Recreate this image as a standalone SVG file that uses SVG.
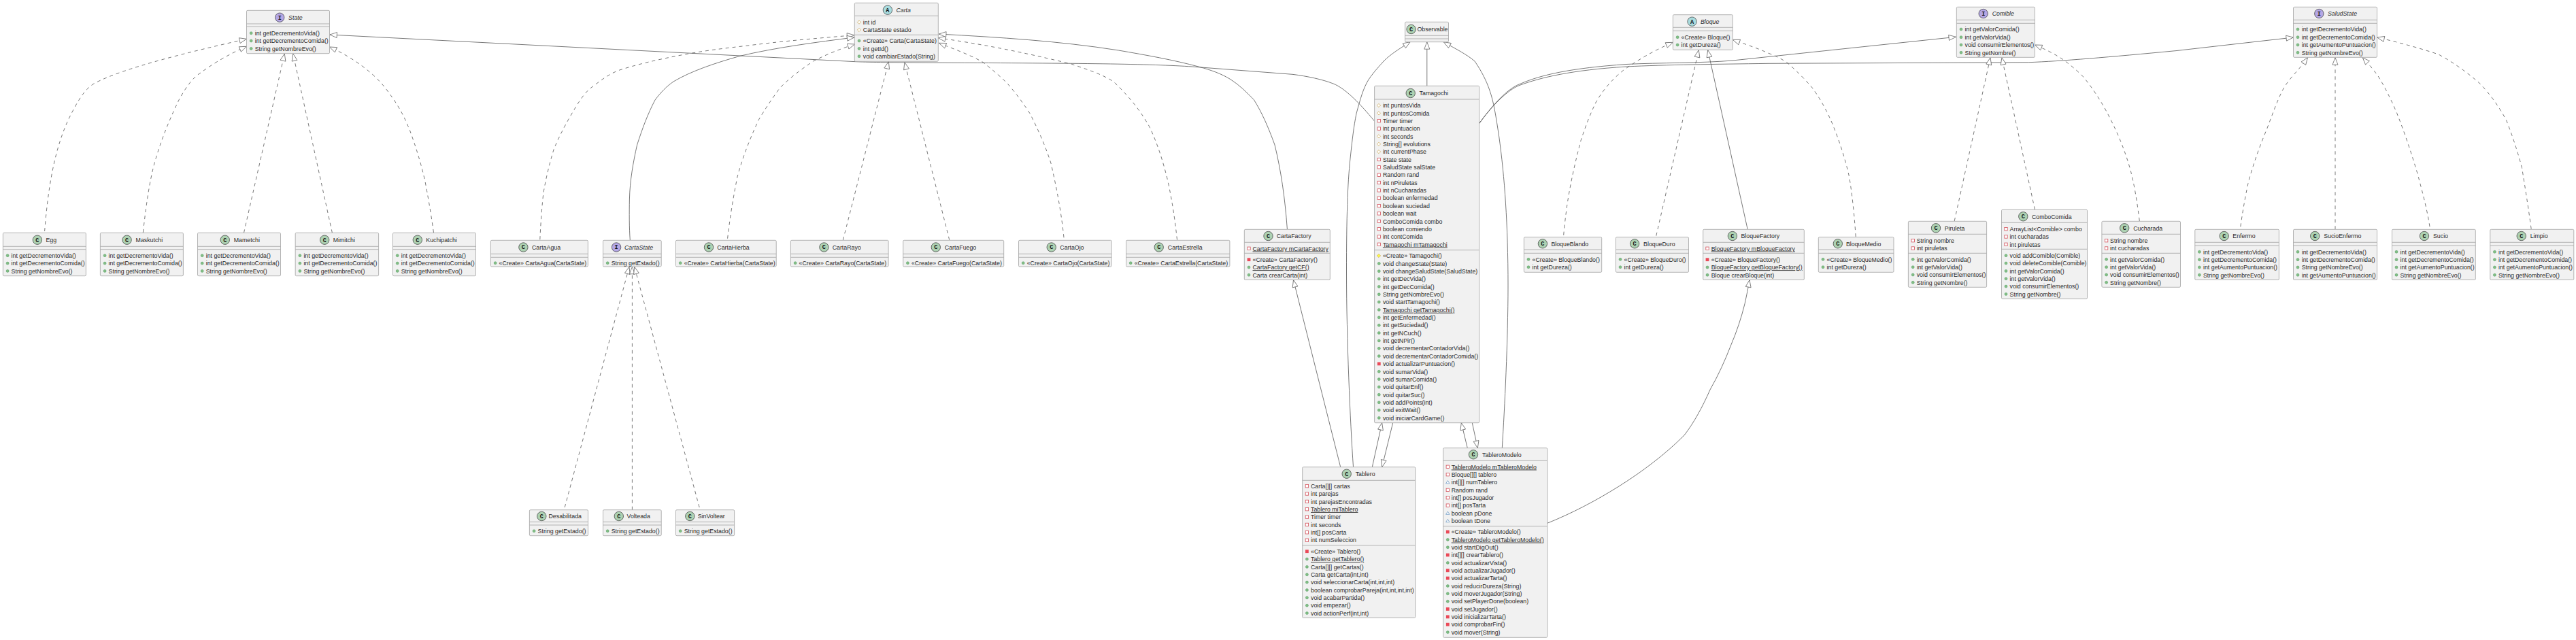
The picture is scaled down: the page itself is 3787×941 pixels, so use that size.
<svg xmlns="http://www.w3.org/2000/svg" xmlns:xlink="http://www.w3.org/1999/xlink" width="3787" height="941" viewBox="0 0 3787 941">
<style>
text{font-family:"Liberation Sans",Arial,sans-serif;font-size:8.8px;fill:#2a2a2a}
.i{font-style:italic}.u{text-decoration:underline}
.b{fill:#f1f1f1;stroke:#aaa;stroke-width:.9}
.s{stroke:#aaa;stroke-width:.9}
.bc{stroke:#333;stroke-width:.7}
.C{fill:#add1b2}.A{fill:#a9dcdf}.I{fill:#b4a7e5}
text.k{font-family:"Liberation Mono",monospace;font-weight:bold;font-size:8.5px;text-anchor:middle;fill:#111}
.c path{fill:none;stroke:#555;stroke-width:.8;marker-end:url(#tri)}
.c .d{stroke-dasharray:5 5}
</style>
<defs>
<marker id="tri" markerUnits="userSpaceOnUse" markerWidth="14" markerHeight="12" refX="11.5" refY="6" orient="auto"><path d="M11.5 6L1 2V10Z" fill="#fff" stroke="#555" stroke-width=".7"/></marker>
<circle id="p" r="2" fill="#84be84" stroke="#4d9a62" stroke-width=".5"/>
<rect id="r" x="-2.2" y="-2.2" width="4.4" height="4.4" fill="#fff" stroke="#d4515b" stroke-width=".8"/>
<rect id="R" x="-2.4" y="-2.4" width="4.8" height="4.8" fill="#ea4a59"/>
<path id="h" d="M0-2.6L2.6 0L0 2.6L-2.6 0Z" fill="#fff" stroke="#c9a24a" stroke-width=".7"/>
<path id="H" d="M0-2.6L2.6 0L0 2.6L-2.6 0Z" fill="#ffff44" stroke="#c9a24a" stroke-width=".7"/>
<path id="a" d="M0-2.4L2.7 1.9H-2.7Z" fill="#fff" stroke="#5f8fc0" stroke-width=".7"/>
</defs>
<rect width="3787" height="941" fill="#fff"/>
<g id="connectors" class="c">
<path class="d" d="M65.6 340C70 285 78 225 100 177C115 146 125 131 138 123C180 100 280 76 362.5 57.3"/>
<path class="d" d="M210.3 342C216 290 222 255 230 230C240 197 252 170 263 147C275 125 285 113 295 107C315 92 340 78 362.5 68.3"/>
<path class="d" d="M358.5 342.3L418.3 79"/>
<path class="d" d="M488.4 342.3L430.8 79"/>
<path class="d" d="M637.5 342C633 310 629 288 625 267C619 240 611 215 603 193C592 165 582 150 567 130C550 108 520 85 484.4 69"/>
<path d="M2020.5 178C2000 153 1978 130 1960 123C1945 117 1922 112 1900 109.3L1759 98.5C1700 94 1600 93 1400 92.3L1300 91.7C1285 91.5 1270 91.2 1258 90.7L484.8 51"/>
<path class="d" d="M793.8 352.3C795 325 797 300 799 283C803 260 808 240 814 220C822 200 833 180 843 163C852 148 860 135 872 126.7C885 117 895 109 910 103.3C945 92 980 85 1012 79C1045 73 1075 70 1102 66.7C1155 60 1205 56 1255.8 51.7"/>
<path d="M926.3 353C925 335 925 312 925.4 293C926 265 931 238 936.6 213C944 190 952 168 963 147C972 135 980 127 990 120C1015 105 1050 93 1088 82.3C1140 70 1200 62 1255.8 55"/>
<path class="d" d="M1069.6 350.7C1073 320 1078 290 1084 260C1092 230 1103 203 1115 176.7C1125 160 1135 145 1146 130C1160 115 1178 102 1195.5 90C1215 80 1235 72 1256.7 65"/>
<path class="d" d="M1239.3 353L1306.3 90.7"/>
<path class="d" d="M1395.7 352.7L1329.9 91.7"/>
<path class="d" d="M1564 349.3C1560 310 1553 275 1545 240C1537 215 1526 190 1514 166.7C1503 150 1492 135 1480 121.7C1468 110 1457 101 1445.4 91.7C1425 80 1402 72 1380.4 63.3"/>
<path class="d" d="M1730.5 352.7C1727 320 1723 295 1717 266.7C1710 238 1702 212 1690 186.7C1675 160 1658 140 1637 120C1620 109 1598 102 1575.5 94.3C1510 78 1445 65 1379.2 55.7"/>
<path d="M1892.4 337C1889 290 1883 250 1874 213C1865 188 1855 165 1843.4 146.7C1832 135 1822 125 1809 116.7C1795 108 1780 103 1763 98.3C1725 88 1685 81 1644.4 74C1555 60 1470 55 1380.4 50"/>
<path class="d" d="M830.2 746L925 392.3"/>
<path class="d" d="M929.4 749.7V392.3"/>
<path class="d" d="M1028.2 746L932.7 392.3"/>
<path d="M2097.8 126.3V61.7"/>
<path d="M1970.7 686.7L1901.5 411.7"/>
<path d="M1989.5 686.7C1985 620 1979.5 500 1979.5 400C1979.5 320 1981 270 1985 233C1988 205 1990 187 1994 167C2000 145 2004 130 2012 117C2020 105 2030 95 2034 90C2045 79 2060 70 2073.2 61.7"/>
<path d="M2208.3 658.7C2212 600 2217 500 2217 420C2217 330 2212 260 2203.6 200C2199 170 2196 150 2190 133C2185 118 2177 103 2168 90C2155 79 2140 72 2122.3 61.7"/>
<path d="M2017.3 686.7L2031.7 621.7"/>
<path d="M2047.7 621.7L2031.7 686.7"/>
<path d="M2157.3 658.7L2148.3 621.7"/>
<path d="M2164.3 621.7L2172.3 658.7"/>
<path d="M2174.5 181.7C2190 160 2215 130 2235 123.3C2265 110 2310 100 2391 94.5C2440 92 2500 93 2547 89L2875.5 54.3"/>
<path d="M2174.5 181.7C2190 160 2215 132 2235 125C2265 114 2310 103 2391 98C2450 95 2520 94.5 2600 93.3L2982.7 91.7C3030 90 3100 84 3200 74.5L3371.5 55"/>
<path class="d" d="M2298.7 345.7C2300 330 2302 315 2304 300C2309 268 2316 237 2324 206.7C2331 185 2338 167 2346.4 150C2358 130 2372 115 2386.6 103.3C2408 88 2432 74 2459.4 62.3"/>
<path class="d" d="M2434.8 346.7L2497.3 73.7"/>
<path d="M2569.2 337.3L2510.7 73.7"/>
<path class="d" d="M2728.2 348.3C2726 315 2723 287 2718.6 260C2713 235 2705 210 2695.7 186.7C2687 165 2677 147 2665 130C2654 117 2641 104 2626.8 91.7C2618 86 2610 82 2600 78.3C2582 70 2565 65 2547.3 58.3"/>
<path d="M2274.7 769.3C2310 755 2345 737 2380 715C2415 693 2448 668 2476 640C2490 622 2503 598 2514 573C2526 552 2536 530 2545 506.7C2553 488 2560 467 2565 446.7C2568 433 2570 423 2572 411.7"/>
<path class="d" d="M2873.2 325L2926 84.7"/>
<path class="d" d="M2991.5 308.3L2942.9 84.7"/>
<path class="d" d="M3145.3 325C3142 298 3138 273 3132 250C3125 225 3116 202 3105 180C3093 155 3079 133 3063 113.3C3053 103 3043 95 3032.5 87.3C3020 79 3006 72 2991.5 66"/>
<path class="d" d="M3293.8 333.3C3297 310 3301 288 3305.6 266.7C3313 240 3322 215 3332.4 190C3340 170 3347 150 3355.4 133C3362 121 3370 112 3378 103.3C3383 97 3388 91 3392.5 84.7"/>
<path class="d" d="M3433 337.3V84.7"/>
<path class="d" d="M3572 333.3C3568 307 3561 282 3554.4 256.7C3545 225 3535 195 3523.8 166.7C3516 148 3507 130 3497 113.3C3490 103 3482 94 3473.3 84.7"/>
<path class="d" d="M3721.2 336.7C3717 305 3712 275 3707.5 246.7C3701 222 3693 198 3684.5 176.7C3673 155 3660 138 3646.2 123.3C3628 107 3607 92 3585 80C3555 70 3525 62 3494.7 55"/>
</g>
<g id="State"><rect class="b" x="362.5" y="15.3" width="122" height="63.4" rx="1.5"/><path class="s" d="M362.5 35H484.5M362.5 39.3H484.5"/><circle class="bc I" cx="411.2" cy="25.7" r="6.7"/><text class="k" x="411.2" y="28.6">I</text><text class="i" x="424.1" y="28.9">State</text>
<use href="#p" x="369.2" y="48.7"/><text x="374.7" y="51.9">int getDecrementoVida()</text><use href="#p" x="369.2" y="60"/><text x="374.7" y="63.2">int getDecrementoComida()</text><use href="#p" x="369.2" y="71.4"/><text x="374.7" y="74.6">String getNombreEvo()</text></g>
<g id="Egg"><rect class="b" x="4.4" y="342.3" width="122" height="63.4" rx="1.5"/><path class="s" d="M4.4 362.3H126.4M4.4 366.7H126.4"/><circle class="bc C" cx="54.9" cy="352.7" r="6.7"/><text class="k" x="54.9" y="355.6">C</text><text x="67.4" y="355.9">Egg</text>
<use href="#p" x="11.1" y="375.7"/><text x="16.6" y="378.9">int getDecrementoVida()</text><use href="#p" x="11.1" y="387.1"/><text x="16.6" y="390.3">int getDecrementoComida()</text><use href="#p" x="11.1" y="398.4"/><text x="16.6" y="401.6">String getNombreEvo()</text></g>
<g id="Maskutchi"><rect class="b" x="147.4" y="342.3" width="122" height="63.4" rx="1.5"/><path class="s" d="M147.4 362.3H269.4M147.4 366.7H269.4"/><circle class="bc C" cx="186.6" cy="352.7" r="6.7"/><text class="k" x="186.6" y="355.6">C</text><text x="199.6" y="355.9">Maskutchi</text>
<use href="#p" x="154.1" y="375.7"/><text x="159.6" y="378.9">int getDecrementoVida()</text><use href="#p" x="154.1" y="387.1"/><text x="159.6" y="390.3">int getDecrementoComida()</text><use href="#p" x="154.1" y="398.4"/><text x="159.6" y="401.6">String getNombreEvo()</text></g>
<g id="Mametchi"><rect class="b" x="290.5" y="342.3" width="122" height="63.4" rx="1.5"/><path class="s" d="M290.5 362.3H412.5M290.5 366.7H412.5"/><circle class="bc C" cx="330.8" cy="352.7" r="6.7"/><text class="k" x="330.8" y="355.6">C</text><text x="343.8" y="355.9">Mametchi</text>
<use href="#p" x="297.2" y="375.7"/><text x="302.7" y="378.9">int getDecrementoVida()</text><use href="#p" x="297.2" y="387.1"/><text x="302.7" y="390.3">int getDecrementoComida()</text><use href="#p" x="297.2" y="398.4"/><text x="302.7" y="401.6">String getNombreEvo()</text></g>
<g id="Mimitchi"><rect class="b" x="434.2" y="342.3" width="122.4" height="63.4" rx="1.5"/><path class="s" d="M434.2 362.3H556.6M434.2 366.7H556.6"/><circle class="bc C" cx="477.2" cy="352.7" r="6.7"/><text class="k" x="477.2" y="355.6">C</text><text x="489.7" y="355.9">Mimitchi</text>
<use href="#p" x="440.9" y="375.7"/><text x="446.4" y="378.9">int getDecrementoVida()</text><use href="#p" x="440.9" y="387.1"/><text x="446.4" y="390.3">int getDecrementoComida()</text><use href="#p" x="440.9" y="398.4"/><text x="446.4" y="401.6">String getNombreEvo()</text></g>
<g id="Kuchipatchi"><rect class="b" x="577.5" y="342.3" width="122" height="63.4" rx="1.5"/><path class="s" d="M577.5 362.3H699.5M577.5 366.7H699.5"/><circle class="bc C" cx="613.8" cy="352.7" r="6.7"/><text class="k" x="613.8" y="355.6">C</text><text x="626.3" y="355.9">Kuchipatchi</text>
<use href="#p" x="584.2" y="375.7"/><text x="589.7" y="378.9">int getDecrementoVida()</text><use href="#p" x="584.2" y="387.1"/><text x="589.7" y="390.3">int getDecrementoComida()</text><use href="#p" x="584.2" y="398.4"/><text x="589.7" y="401.6">String getNombreEvo()</text></g>
<g id="Carta"><rect class="b" x="1256.3" y="4.3" width="123" height="86" rx="1.5"/><path class="s" d="M1256.3 23.3H1379.3M1256.3 51.3H1379.3"/><circle class="bc A" cx="1304.9" cy="14.7" r="6.7"/><text class="k" x="1304.9" y="17.6">A</text><text class="i" x="1317.4" y="17.9">Carta</text>
<use href="#h" x="1263" y="32.7"/><text x="1268.8" y="35.9">int id</text><use href="#h" x="1263" y="44"/><text x="1268.8" y="47.2">CartaState estado</text><use href="#p" x="1263" y="60"/><text x="1268.8" y="63.2">«Create» Carta(CartaState)</text><use href="#p" x="1263" y="71.4"/><text x="1268.8" y="74.6">int getId()</text><use href="#p" x="1263" y="82.7"/><text x="1268.8" y="85.9">void cambiarEstado(String)</text></g>
<g id="CartaAgua"><rect class="b" x="721.4" y="353.3" width="143" height="38.7" rx="1.5"/><path class="s" d="M721.4 373.3H864.4M721.4 378.3H864.4"/><circle class="bc C" cx="769.4" cy="363.5" r="6.7"/><text class="k" x="769.4" y="366.4">C</text><text x="782" y="366.7">CartaAgua</text><use href="#p" x="728.1" y="386.7"/><text x="733.6" y="389.9">«Create» CartaAgua(CartaState)</text></g>
<g id="CartaState"><rect class="b" x="886.5" y="353.3" width="85.7" height="38.7" rx="1.5"/><path class="s" d="M886.5 373.3H972.2M886.5 378.3H972.2"/><circle class="bc I" cx="906.1" cy="363.5" r="6.7"/><text class="k" x="906.1" y="366.4">I</text><text class="i" x="918" y="366.7">CartaState</text><use href="#p" x="893.2" y="386.7"/><text x="898.7" y="389.9">String getEstado()</text></g>
<g id="CartaHierba"><rect class="b" x="993.5" y="353.3" width="147.7" height="38.7" rx="1.5"/><path class="s" d="M993.5 373.3H1141.2M993.5 378.3H1141.2"/><circle class="bc C" cx="1042" cy="363.5" r="6.7"/><text class="k" x="1042" y="366.4">C</text><text x="1054.3" y="366.7">CartaHierba</text><use href="#p" x="1000.2" y="386.7"/><text x="1005.7" y="389.9">«Create» CartaHierba(CartaState)</text></g>
<g id="CartaRayo"><rect class="b" x="1162.4" y="353.3" width="143.7" height="38.7" rx="1.5"/><path class="s" d="M1162.4 373.3H1306.1M1162.4 378.3H1306.1"/><circle class="bc C" cx="1211.4" cy="363.5" r="6.7"/><text class="k" x="1211.4" y="366.4">C</text><text x="1223.7" y="366.7">CartaRayo</text><use href="#p" x="1169.1" y="386.7"/><text x="1174.6" y="389.9">«Create» CartaRayo(CartaState)</text></g>
<g id="CartaFuego"><rect class="b" x="1327.7" y="353.3" width="148" height="38.7" rx="1.5"/><path class="s" d="M1327.7 373.3H1475.7M1327.7 378.3H1475.7"/><circle class="bc C" cx="1375.8" cy="363.5" r="6.7"/><text class="k" x="1375.8" y="366.4">C</text><text x="1388.8" y="366.7">CartaFuego</text><use href="#p" x="1334.4" y="386.7"/><text x="1339.9" y="389.9">«Create» CartaFuego(CartaState)</text></g>
<g id="CartaOjo"><rect class="b" x="1497.5" y="353.3" width="136.6" height="38.7" rx="1.5"/><path class="s" d="M1497.5 373.3H1634.1M1497.5 378.3H1634.1"/><circle class="bc C" cx="1545.7" cy="363.5" r="6.7"/><text class="k" x="1545.7" y="366.4">C</text><text x="1558.3" y="366.7">CartaOjo</text><use href="#p" x="1504.2" y="386.7"/><text x="1509.7" y="389.9">«Create» CartaOjo(CartaState)</text></g>
<g id="CartaEstrella"><rect class="b" x="1655.5" y="353.3" width="152.4" height="38.7" rx="1.5"/><path class="s" d="M1655.5 373.3H1807.9M1655.5 378.3H1807.9"/><circle class="bc C" cx="1703.7" cy="363.5" r="6.7"/><text class="k" x="1703.7" y="366.4">C</text><text x="1716.8" y="366.7">CartaEstrella</text><use href="#p" x="1662.2" y="386.7"/><text x="1667.7" y="389.9">«Create» CartaEstrella(CartaState)</text></g>
<g id="CartaFactory"><rect class="b" x="1829.3" y="337.3" width="126" height="74.2" rx="1.5"/><path class="s" d="M1829.3 356.3H1955.3M1829.3 372.3H1955.3"/><circle class="bc C" cx="1864.5" cy="347" r="6.7"/><text class="k" x="1864.5" y="349.9">C</text><text x="1876.7" y="350.2">CartaFactory</text>
<use href="#r" x="1836" y="365.3"/><text class="u" x="1841.5" y="368.5">CartaFactory mCartaFactory</text><use href="#R" x="1836" y="381.7"/><text x="1841.5" y="384.9">«Create» CartaFactory()</text><use href="#p" x="1836" y="393"/><text class="u" x="1841.5" y="396.2">CartaFactory getCF()</text><use href="#p" x="1836" y="404.3"/><text x="1841.5" y="407.5">Carta crearCarta(int)</text></g>
<g id="Desabilitada"><rect class="b" x="778.4" y="749.7" width="86.1" height="38" rx="1.5"/><path class="s" d="M778.4 767.3H864.5M778.4 772H864.5"/><circle class="bc C" cx="796.3" cy="759" r="6.7"/><text class="k" x="796.3" y="761.9">C</text><text x="806.5" y="762.2">Desabilitada</text><use href="#p" x="785.1" y="780.7"/><text x="790.6" y="783.9">String getEstado()</text></g>
<g id="Volteada"><rect class="b" x="886.5" y="749.7" width="85.7" height="38" rx="1.5"/><path class="s" d="M886.5 767.3H972.2M886.5 772H972.2"/><circle class="bc C" cx="909.8" cy="759" r="6.7"/><text class="k" x="909.8" y="761.9">C</text><text x="921.6" y="762.2">Volteada</text><use href="#p" x="893.2" y="780.7"/><text x="898.7" y="783.9">String getEstado()</text></g>
<g id="SinVoltear"><rect class="b" x="993.5" y="749.7" width="86.1" height="38" rx="1.5"/><path class="s" d="M993.5 767.3H1079.6M993.5 772H1079.6"/><circle class="bc C" cx="1014.3" cy="759" r="6.7"/><text class="k" x="1014.3" y="761.9">C</text><text x="1025.7" y="762.2">SinVoltear</text><use href="#p" x="1000.2" y="780.7"/><text x="1005.7" y="783.9">String getEstado()</text></g>
<g id="Observable"><rect class="b" x="2065.6" y="32.3" width="63.9" height="29.4" rx="1.5"/><path class="s" d="M2065.6 52.3H2129.5M2065.6 57H2129.5"/><circle class="bc C" cx="2074.6" cy="43" r="6.7"/><text class="k" x="2074.6" y="45.9">C</text><text x="2083.5" y="46.2">Observable</text></g>
<g id="Tamagochi"><rect class="b" x="2020.6" y="126.3" width="154" height="495.4" rx="1.5"/><path class="s" d="M2020.6 146H2174.6M2020.6 367.7H2174.6"/><circle class="bc C" cx="2073.7" cy="137" r="6.7"/><text class="k" x="2073.7" y="139.9">C</text><text x="2086.6" y="140.2">Tamagochi</text>
<use href="#h" x="2027" y="155"/><text x="2032.9" y="158.2">int puntosVida</text>
<use href="#h" x="2027" y="166.4"/><text x="2032.9" y="169.6">int puntosComida</text>
<use href="#r" x="2027.3" y="177.7"/><text x="2032.9" y="180.9">Timer timer</text>
<use href="#r" x="2027.3" y="189.1"/><text x="2032.9" y="192.3">int puntuacion</text>
<use href="#h" x="2027" y="200.4"/><text x="2032.9" y="203.6">int seconds</text>
<use href="#h" x="2027" y="211.8"/><text x="2032.9" y="215">String[] evolutions</text>
<use href="#h" x="2027" y="223.1"/><text x="2032.9" y="226.3">int currentPhase</text>
<use href="#r" x="2027.3" y="234.5"/><text x="2032.9" y="237.7">State state</text>
<use href="#r" x="2027.3" y="245.8"/><text x="2032.9" y="249">SaludState salState</text>
<use href="#r" x="2027.3" y="257.2"/><text x="2032.9" y="260.4">Random rand</text>
<use href="#r" x="2027.3" y="268.5"/><text x="2032.9" y="271.7">int nPiruletas</text>
<use href="#r" x="2027.3" y="279.9"/><text x="2032.9" y="283.1">int nCucharadas</text>
<use href="#r" x="2027.3" y="291.2"/><text x="2032.9" y="294.4">boolean enfermedad</text>
<use href="#r" x="2027.3" y="302.6"/><text x="2032.9" y="305.8">boolean suciedad</text>
<use href="#r" x="2027.3" y="313.9"/><text x="2032.9" y="317.1">boolean wait</text>
<use href="#r" x="2027.3" y="325.3"/><text x="2032.9" y="328.5">ComboComida combo</text>
<use href="#r" x="2027.3" y="336.6"/><text x="2032.9" y="339.8">boolean comiendo</text>
<use href="#r" x="2027.3" y="348"/><text x="2032.9" y="351.2">int contComida</text>
<use href="#r" x="2027.3" y="359.3"/><text class="u" x="2032.9" y="362.5">Tamagochi mTamagochi</text>
<use href="#H" x="2027" y="376"/><text x="2032.9" y="379.2">«Create» Tamagochi()</text>
<use href="#p" x="2027.3" y="387.4"/><text x="2032.9" y="390.6">void changeState(State)</text>
<use href="#p" x="2027.3" y="398.7"/><text x="2032.9" y="401.9">void changeSaludState(SaludState)</text>
<use href="#p" x="2027.3" y="410.1"/><text x="2032.9" y="413.3">int getDecVida()</text>
<use href="#p" x="2027.3" y="421.4"/><text x="2032.9" y="424.6">int getDecComida()</text>
<use href="#p" x="2027.3" y="432.8"/><text x="2032.9" y="436">String getNombreEvo()</text>
<use href="#p" x="2027.3" y="444.1"/><text x="2032.9" y="447.3">void startTamagochi()</text>
<use href="#p" x="2027.3" y="455.5"/><text class="u" x="2032.9" y="458.7">Tamagochi getTamagochi()</text>
<use href="#p" x="2027.3" y="466.8"/><text x="2032.9" y="470">int getEnfermedad()</text>
<use href="#p" x="2027.3" y="478.2"/><text x="2032.9" y="481.4">int getSuciedad()</text>
<use href="#p" x="2027.3" y="489.5"/><text x="2032.9" y="492.7">int getNCuch()</text>
<use href="#p" x="2027.3" y="500.9"/><text x="2032.9" y="504.1">int getNPir()</text>
<use href="#p" x="2027.3" y="512.2"/><text x="2032.9" y="515.4">void decrementarContadorVida()</text>
<use href="#p" x="2027.3" y="523.6"/><text x="2032.9" y="526.8">void decrementarContadorComida()</text>
<use href="#R" x="2027.3" y="534.9"/><text x="2032.9" y="538.1">void actualizarPuntuacion()</text>
<use href="#p" x="2027.3" y="546.3"/><text x="2032.9" y="549.5">void sumarVida()</text>
<use href="#p" x="2027.3" y="557.6"/><text x="2032.9" y="560.8">void sumarComida()</text>
<use href="#p" x="2027.3" y="569"/><text x="2032.9" y="572.2">void quitarEnf()</text>
<use href="#p" x="2027.3" y="580.3"/><text x="2032.9" y="583.5">void quitarSuc()</text>
<use href="#p" x="2027.3" y="591.7"/><text x="2032.9" y="594.9">void addPoints(int)</text>
<use href="#p" x="2027.3" y="603"/><text x="2032.9" y="606.2">void exitWait()</text>
<use href="#p" x="2027.3" y="614.4"/><text x="2032.9" y="617.6">void iniciarCardGame()</text></g>
<g id="Tablero"><rect class="b" x="1914.7" y="686.7" width="166" height="221.6" rx="1.5"/><path class="s" d="M1914.7 706.3H2080.7M1914.7 801.7H2080.7"/><circle class="bc C" cx="1979.7" cy="696.7" r="6.7"/><text class="k" x="1979.7" y="699.6">C</text><text x="1992.7" y="699.9">Tablero</text>
<use href="#r" x="1921.4" y="714.7"/><text x="1927" y="717.9">Carta[][] cartas</text>
<use href="#r" x="1921.4" y="726"/><text x="1927" y="729.2">int parejas</text>
<use href="#r" x="1921.4" y="737.4"/><text x="1927" y="740.6">int parejasEncontradas</text>
<use href="#r" x="1921.4" y="748.7"/><text class="u" x="1927" y="751.9">Tablero miTablero</text>
<use href="#r" x="1921.4" y="760.1"/><text x="1927" y="763.3">Timer timer</text>
<use href="#r" x="1921.4" y="771.4"/><text x="1927" y="774.6">int seconds</text>
<use href="#r" x="1921.4" y="782.8"/><text x="1927" y="786">int[] posCarta</text>
<use href="#r" x="1921.4" y="794.2"/><text x="1927" y="797.4">int numSeleccion</text>
<use href="#R" x="1921.4" y="810.7"/><text x="1927" y="813.9">«Create» Tablero()</text>
<use href="#p" x="1921.4" y="822"/><text class="u" x="1927" y="825.2">Tablero getTablero()</text>
<use href="#p" x="1921.4" y="833.4"/><text x="1927" y="836.6">Carta[][] getCartas()</text>
<use href="#p" x="1921.4" y="844.8"/><text x="1927" y="848">Carta getCarta(int,int)</text>
<use href="#p" x="1921.4" y="856.1"/><text x="1927" y="859.3">void seleccionarCarta(int,int,int)</text>
<use href="#p" x="1921.4" y="867.5"/><text x="1927" y="870.7">boolean comprobarPareja(int,int,int,int)</text>
<use href="#p" x="1921.4" y="878.8"/><text x="1927" y="882">void acabarPartida()</text>
<use href="#p" x="1921.4" y="890.2"/><text x="1927" y="893.4">void empezar()</text>
<use href="#p" x="1921.4" y="901.5"/><text x="1927" y="904.7">void actionPerf(int,int)</text></g>
<g id="TableroModelo"><rect class="b" x="2121.7" y="658.7" width="153" height="278.6" rx="1.5"/><path class="s" d="M2121.7 677.3H2274.7M2121.7 773.7H2274.7"/><circle class="bc C" cx="2166" cy="668.3" r="6.7"/><text class="k" x="2166" y="671.2">C</text><text x="2179" y="671.5">TableroModelo</text>
<use href="#r" x="2128.3" y="686.3"/><text class="u" x="2133.7" y="689.5">TableroModelo mTableroModelo</text>
<use href="#r" x="2128.3" y="697.7"/><text x="2133.7" y="700.9">Bloque[][] tablero</text>
<use href="#a" x="2128.3" y="709"/><text x="2133.7" y="712.2">int[][] numTablero</text>
<use href="#r" x="2128.3" y="720.4"/><text x="2133.7" y="723.6">Random rand</text>
<use href="#r" x="2128.3" y="731.7"/><text x="2133.7" y="734.9">int[] posJugador</text>
<use href="#r" x="2128.3" y="743.1"/><text x="2133.7" y="746.3">int[] posTarta</text>
<use href="#a" x="2128.3" y="754.4"/><text x="2133.7" y="757.6">boolean pDone</text>
<use href="#a" x="2128.3" y="765.8"/><text x="2133.7" y="769">boolean tDone</text>
<use href="#R" x="2128.3" y="782"/><text x="2133.7" y="785.2">«Create» TableroModelo()</text>
<use href="#p" x="2128.3" y="793.4"/><text class="u" x="2133.7" y="796.6">TableroModelo getTableroModelo()</text>
<use href="#p" x="2128.3" y="804.7"/><text x="2133.7" y="807.9">void startDigOut()</text>
<use href="#R" x="2128.3" y="816"/><text x="2133.7" y="819.2">int[][] crearTablero()</text>
<use href="#p" x="2128.3" y="827.4"/><text x="2133.7" y="830.6">void actualizarVista()</text>
<use href="#R" x="2128.3" y="838.8"/><text x="2133.7" y="842">void actualizarJugador()</text>
<use href="#R" x="2128.3" y="850.1"/><text x="2133.7" y="853.3">void actualizarTarta()</text>
<use href="#p" x="2128.3" y="861.5"/><text x="2133.7" y="864.7">void reducirDureza(String)</text>
<use href="#p" x="2128.3" y="872.8"/><text x="2133.7" y="876">void moverJugador(String)</text>
<use href="#p" x="2128.3" y="884.2"/><text x="2133.7" y="887.4">void setPlayerDone(boolean)</text>
<use href="#R" x="2128.3" y="895.5"/><text x="2133.7" y="898.7">void setJugador()</text>
<use href="#R" x="2128.3" y="906.9"/><text x="2133.7" y="910.1">void inicializarTarta()</text>
<use href="#R" x="2128.3" y="918.2"/><text x="2133.7" y="921.4">void comprobarFin()</text>
<use href="#p" x="2128.3" y="929.6"/><text x="2133.7" y="932.8">void mover(String)</text></g>
<g id="Bloque"><rect class="b" x="2459.4" y="21.7" width="87.9" height="51.6" rx="1.5"/><path class="s" d="M2459.4 40.3H2547.3M2459.4 45.3H2547.3"/><circle class="bc A" cx="2487.5" cy="31.7" r="6.7"/><text class="k" x="2487.5" y="34.6">A</text><text class="i" x="2500" y="34.9">Bloque</text><use href="#p" x="2466.1" y="54.7"/><text x="2471.6" y="57.9">«Create» Bloque()</text><use href="#p" x="2466.1" y="66"/><text x="2471.6" y="69.2">int getDureza()</text></g>
<g id="BloqueBlando"><rect class="b" x="2240.4" y="348.7" width="114.3" height="51.6" rx="1.5"/><path class="s" d="M2240.4 367H2354.7M2240.4 372.3H2354.7"/><circle class="bc C" cx="2267.9" cy="358.3" r="6.7"/><text class="k" x="2267.9" y="361.2">C</text><text x="2280.4" y="361.5">BloqueBlando</text><use href="#p" x="2247" y="381.3"/><text x="2252.6" y="384.5">«Create» BloqueBlando()</text><use href="#p" x="2247" y="392.7"/><text x="2252.6" y="395.9">int getDureza()</text></g>
<g id="BloqueDuro"><rect class="b" x="2375.4" y="348.7" width="107.1" height="51.6" rx="1.5"/><path class="s" d="M2375.4 367H2482.5M2375.4 372.3H2482.5"/><circle class="bc C" cx="2403.1" cy="358.3" r="6.7"/><text class="k" x="2403.1" y="361.2">C</text><text x="2416.1" y="361.5">BloqueDuro</text><use href="#p" x="2382" y="381.3"/><text x="2387.6" y="384.5">«Create» BloqueDuro()</text><use href="#p" x="2382" y="392.7"/><text x="2387.6" y="395.9">int getDureza()</text></g>
<g id="BloqueFactory"><rect class="b" x="2503.7" y="337.3" width="148.6" height="74.2" rx="1.5"/><path class="s" d="M2503.7 356.3H2652.3M2503.7 372.3H2652.3"/><circle class="bc C" cx="2546.9" cy="347" r="6.7"/><text class="k" x="2546.9" y="349.9">C</text><text x="2559.5" y="350.2">BloqueFactory</text>
<use href="#r" x="2510" y="365.3"/><text class="u" x="2515.7" y="368.5">BloqueFactory mBloqueFactory</text><use href="#R" x="2510" y="381.7"/><text x="2515.7" y="384.9">«Create» BloqueFactory()</text><use href="#p" x="2510" y="393"/><text class="u" x="2515.7" y="396.2">BloqueFactory getBloqueFactory()</text><use href="#p" x="2510" y="404.3"/><text x="2515.7" y="407.5">Bloque crearBloque(int)</text></g>
<g id="BloqueMedio"><rect class="b" x="2673.3" y="348.7" width="110.7" height="51.6" rx="1.5"/><path class="s" d="M2673.3 367H2784M2673.3 372.3H2784"/><circle class="bc C" cx="2701.8" cy="358.3" r="6.7"/><text class="k" x="2701.8" y="361.2">C</text><text x="2714" y="361.5">BloqueMedio</text><use href="#p" x="2680" y="381.3"/><text x="2685.6" y="384.5">«Create» BloqueMedio()</text><use href="#p" x="2680" y="392.7"/><text x="2685.6" y="395.9">int getDureza()</text></g>
<g id="Comible"><rect class="b" x="2876.3" y="10.3" width="115.2" height="74" rx="1.5"/><path class="s" d="M2876.3 29.3H2991.5M2876.3 34.3H2991.5"/><circle class="bc I" cx="2915.7" cy="20" r="6.7"/><text class="k" x="2915.7" y="22.9">I</text><text class="i" x="2928.7" y="23.2">Comible</text><use href="#p" x="2883" y="43"/><text x="2888.6" y="46.2">int getValorComida()</text><use href="#p" x="2883" y="54.7"/><text x="2888.6" y="57.9">int getValorVida()</text><use href="#p" x="2883" y="66"/><text x="2888.6" y="69.2">void consumirElementos()</text><use href="#p" x="2883" y="77.3"/><text x="2888.6" y="80.5">String getNombre()</text></g>
<g id="Piruleta"><rect class="b" x="2805.4" y="325.3" width="115.2" height="97" rx="1.5"/><path class="s" d="M2805.4 344.3H2920.6M2805.4 372.3H2920.6"/><circle class="bc C" cx="2846" cy="335.3" r="6.7"/><text class="k" x="2846" y="338.2">C</text><text x="2858.7" y="338.5">Piruleta</text><use href="#r" x="2812.2" y="353.7"/><text x="2817.7" y="356.9">String nombre</text><use href="#r" x="2812.2" y="365"/><text x="2817.7" y="368.2">int piruletas</text><use href="#p" x="2812.2" y="381.3"/><text x="2817.7" y="384.5">int getValorComida()</text><use href="#p" x="2812.2" y="392.7"/><text x="2817.7" y="395.9">int getValorVida()</text><use href="#p" x="2812.2" y="404"/><text x="2817.7" y="407.2">void consumirElementos()</text><use href="#p" x="2812.2" y="415.3"/><text x="2817.7" y="418.5">String getNombre()</text></g>
<g id="ComboComida"><rect class="b" x="2942.5" y="308.3" width="126" height="131" rx="1.5"/><path class="s" d="M2942.5 327.3H3068.5M2942.5 366.3H3068.5"/><circle class="bc C" cx="2974.3" cy="318.3" r="6.7"/><text class="k" x="2974.3" y="321.2">C</text><text x="2986.9" y="321.5">ComboComida</text><use href="#r" x="2949" y="336.7"/><text x="2954.6" y="339.9">ArrayList&lt;Comible&gt; combo</text><use href="#r" x="2949" y="348"/><text x="2954.6" y="351.2">int cucharadas</text><use href="#r" x="2949" y="359.3"/><text x="2954.6" y="362.5">int piruletas</text><use href="#p" x="2949" y="375.7"/><text x="2954.6" y="378.9">void addComible(Comible)</text><use href="#p" x="2949" y="387"/><text x="2954.6" y="390.2">void deleteComible(Comible)</text><use href="#p" x="2949" y="398.4"/><text x="2954.6" y="401.6">int getValorComida()</text><use href="#p" x="2949" y="409.8"/><text x="2954.6" y="413">int getValorVida()</text><use href="#p" x="2949" y="421.1"/><text x="2954.6" y="424.3">void consumirElementos()</text><use href="#p" x="2949" y="432.4"/><text x="2954.6" y="435.6">String getNombre()</text></g>
<g id="Cucharada"><rect class="b" x="3089.9" y="325.3" width="115.6" height="97" rx="1.5"/><path class="s" d="M3089.9 344.3H3205.5M3089.9 372.3H3205.5"/><circle class="bc C" cx="3123.2" cy="335.3" r="6.7"/><text class="k" x="3123.2" y="338.2">C</text><text x="3136.2" y="338.5">Cucharada</text><use href="#r" x="3096.6" y="353.7"/><text x="3102.1" y="356.9">String nombre</text><use href="#r" x="3096.6" y="365"/><text x="3102.1" y="368.2">int cucharadas</text><use href="#p" x="3096.6" y="381.3"/><text x="3102.1" y="384.5">int getValorComida()</text><use href="#p" x="3096.6" y="392.7"/><text x="3102.1" y="395.9">int getValorVida()</text><use href="#p" x="3096.6" y="404"/><text x="3102.1" y="407.2">void consumirElementos()</text><use href="#p" x="3096.6" y="415.3"/><text x="3102.1" y="418.5">String getNombre()</text></g>
<g id="SaludState"><rect class="b" x="3371.5" y="10.3" width="123" height="74" rx="1.5"/><path class="s" d="M3371.5 29.3H3494.5M3371.5 34.3H3494.5"/><circle class="bc I" cx="3409.3" cy="20" r="6.7"/><text class="k" x="3409.3" y="22.9">I</text><text class="i" x="3422" y="23.2">SaludState</text><use href="#p" x="3378" y="43"/><text x="3383.7" y="46.2">int getDecrementoVida()</text><use href="#p" x="3378" y="54.7"/><text x="3383.7" y="57.9">int getDecrementoComida()</text><use href="#p" x="3378" y="66"/><text x="3383.7" y="69.2">int getAumentoPuntuacion()</text><use href="#p" x="3378" y="77.3"/><text x="3383.7" y="80.5">String getNombreEvo()</text></g>
<g id="Enfermo"><rect class="b" x="3226.8" y="337.3" width="123.6" height="74.2" rx="1.5"/><path class="s" d="M3226.8 356.3H3350.4M3226.8 361.3H3350.4"/><circle class="bc C" cx="3269.7" cy="347" r="6.7"/><text class="k" x="3269.7" y="349.9">C</text><text x="3282.3" y="350.2">Enfermo</text><use href="#p" x="3233.4" y="370.3"/><text x="3239" y="373.5">int getDecrementoVida()</text><use href="#p" x="3233.4" y="381.7"/><text x="3239" y="384.9">int getDecrementoComida()</text><use href="#p" x="3233.4" y="393"/><text x="3239" y="396.2">int getAumentoPuntuacion()</text><use href="#p" x="3233.4" y="404.3"/><text x="3239" y="407.5">String getNombreEvo()</text></g>
<g id="SucioEnfermo"><rect class="b" x="3371.5" y="337.3" width="123" height="74.2" rx="1.5"/><path class="s" d="M3371.5 356.3H3494.5M3371.5 361.3H3494.5"/><circle class="bc C" cx="3403.2" cy="347" r="6.7"/><text class="k" x="3403.2" y="349.9">C</text><text x="3416.2" y="350.2">SucioEnfermo</text><use href="#p" x="3378" y="370.3"/><text x="3383.7" y="373.5">int getDecrementoVida()</text><use href="#p" x="3378" y="381.7"/><text x="3383.7" y="384.9">int getDecrementoComida()</text><use href="#p" x="3378" y="393"/><text x="3383.7" y="396.2">String getNombreEvo()</text><use href="#p" x="3378" y="404.3"/><text x="3383.7" y="407.5">int getAumentoPuntuacion()</text></g>
<g id="Sucio"><rect class="b" x="3516.5" y="337.3" width="122.8" height="74.2" rx="1.5"/><path class="s" d="M3516.5 356.3H3639.3M3516.5 361.3H3639.3"/><circle class="bc C" cx="3564" cy="347" r="6.7"/><text class="k" x="3564" y="349.9">C</text><text x="3577" y="350.2">Sucio</text><use href="#p" x="3523" y="370.3"/><text x="3528.6" y="373.5">int getDecrementoVida()</text><use href="#p" x="3523" y="381.7"/><text x="3528.6" y="384.9">int getDecrementoComida()</text><use href="#p" x="3523" y="393"/><text x="3528.6" y="396.2">int getAumentoPuntuacion()</text><use href="#p" x="3523" y="404.3"/><text x="3528.6" y="407.5">String getNombreEvo()</text></g>
<g id="Limpio"><rect class="b" x="3660.8" y="337.3" width="123" height="74.2" rx="1.5"/><path class="s" d="M3660.8 356.3H3783.8M3660.8 361.3H3783.8"/><circle class="bc C" cx="3706.7" cy="347" r="6.7"/><text class="k" x="3706.7" y="349.9">C</text><text x="3719.7" y="350.2">Limpio</text><use href="#p" x="3667.4" y="370.3"/><text x="3673" y="373.5">int getDecrementoVida()</text><use href="#p" x="3667.4" y="381.7"/><text x="3673" y="384.9">int getDecrementoComida()</text><use href="#p" x="3667.4" y="393"/><text x="3673" y="396.2">int getAumentoPuntuacion()</text><use href="#p" x="3667.4" y="404.3"/><text x="3673" y="407.5">String getNombreEvo()</text></g>
</svg>
